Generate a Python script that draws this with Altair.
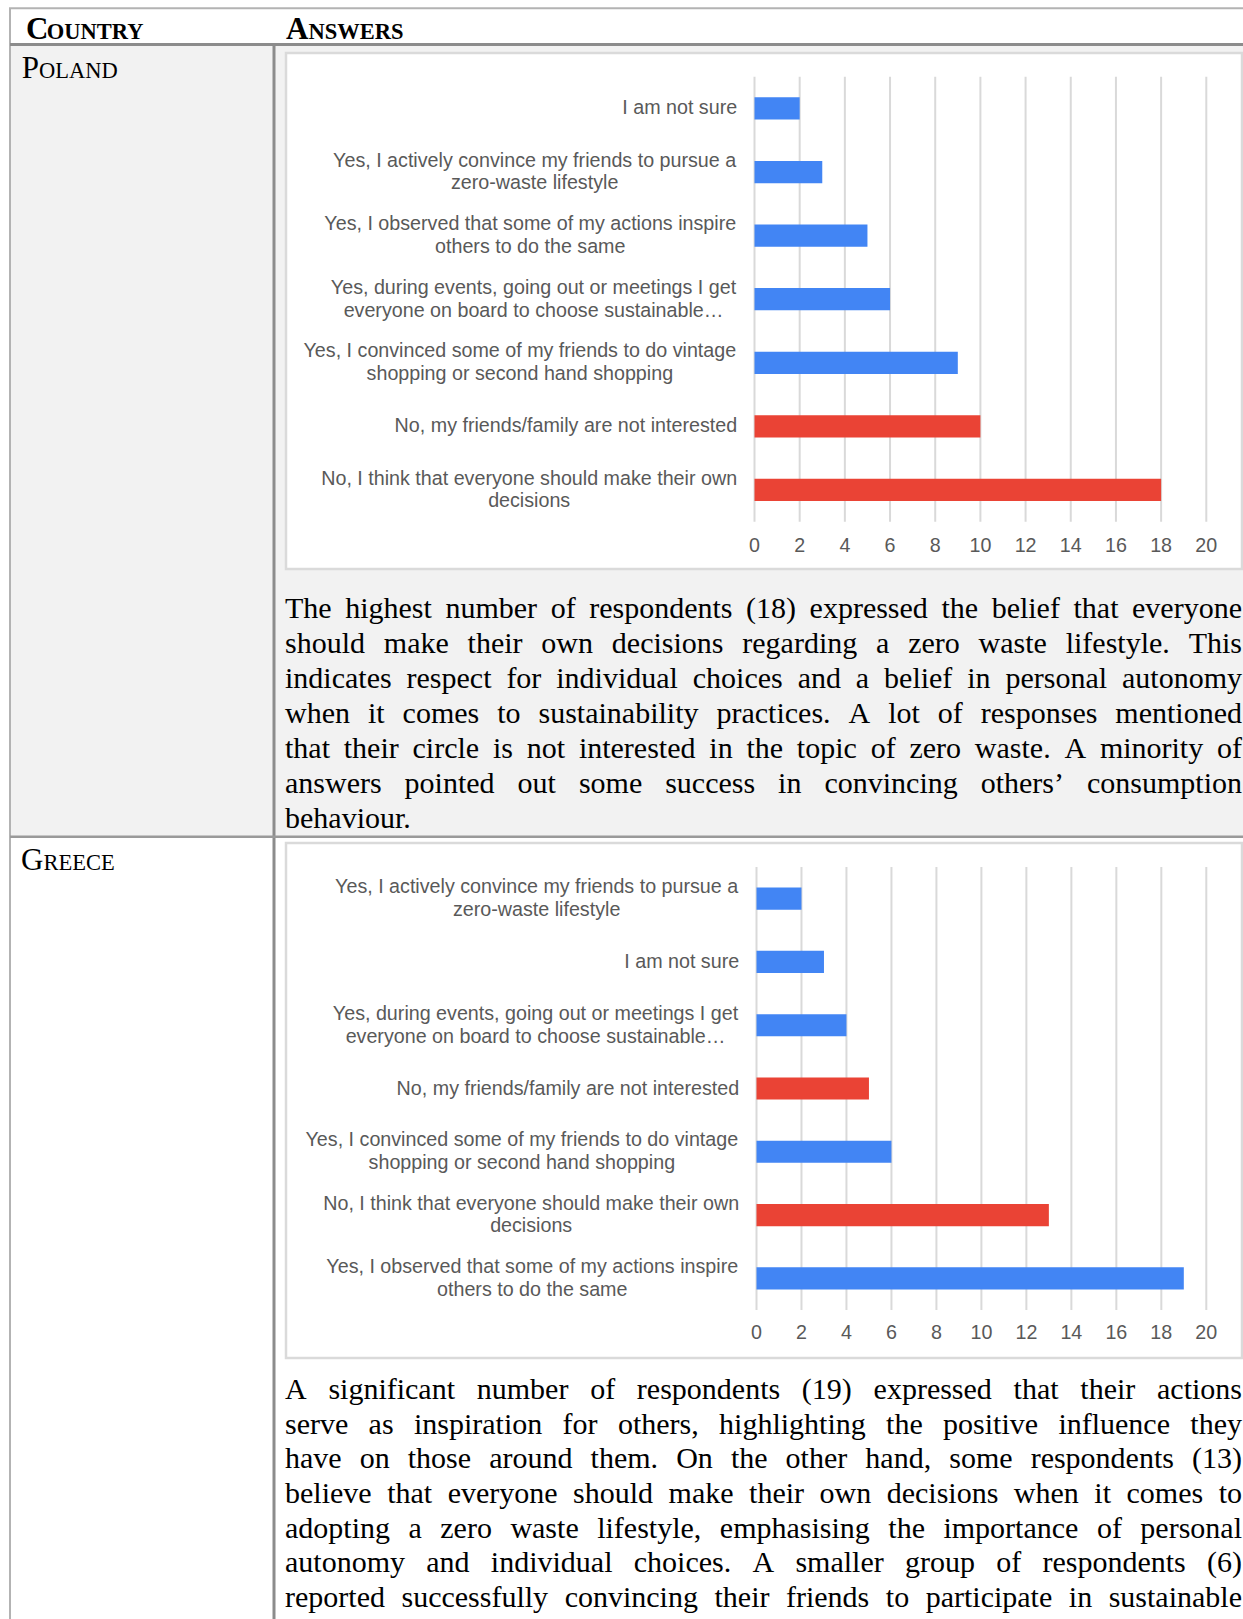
import altair as alt
import pandas as pd

# ---------------- content ----------------
HEADER_COUNTRY = "Country"
HEADER_ANSWERS = "Answers"
COUNTRY_1 = "Poland"
COUNTRY_2 = "Greece"

PL_ANSWERS = [
    "I am not sure",
    "Yes, I actively convince my friends to pursue a\nzero-waste lifestyle",
    "Yes, I observed that some of my actions inspire\nothers to do the same",
    "Yes, during events, going out or meetings I get\neveryone on board to choose sustainable…",
    "Yes, I convinced some of my friends to do vintage\nshopping or second hand shopping",
    "No, my friends/family are not interested",
    "No, I think that everyone should make their own\ndecisions",
]
PL_COUNTS = [2, 3, 5, 6, 9, 10, 18]
PL_KIND = ["yes", "yes", "yes", "yes", "yes", "no", "no"]

GR_ANSWERS = [
    "Yes, I actively convince my friends to pursue a\nzero-waste lifestyle",
    "I am not sure",
    "Yes, during events, going out or meetings I get\neveryone on board to choose sustainable…",
    "No, my friends/family are not interested",
    "Yes, I convinced some of my friends to do vintage\nshopping or second hand shopping",
    "No, I think that everyone should make their own\ndecisions",
    "Yes, I observed that some of my actions inspire\nothers to do the same",
]
GR_COUNTS = [2, 3, 4, 5, 6, 13, 19]
GR_KIND = ["yes", "yes", "yes", "no", "yes", "no", "yes"]

X_TICKS = [0, 2, 4, 6, 8, 10, 12, 14, 16, 18, 20]

PL_TEXT = [
    "The highest number of respondents (18) expressed the belief that everyone",
    "should make their own decisions regarding a zero waste lifestyle. This",
    "indicates respect for individual choices and a belief in personal autonomy",
    "when it comes to sustainability practices. A lot of responses mentioned",
    "that their circle is not interested in the topic of zero waste. A minority of",
    "answers pointed out some success in convincing others’ consumption",
    "behaviour.",
]
GR_TEXT = [
    "A significant number of respondents (19) expressed that their actions",
    "serve as inspiration for others, highlighting the positive influence they",
    "have on those around them. On the other hand, some respondents (13)",
    "believe that everyone should make their own decisions when it comes to",
    "adopting a zero waste lifestyle, emphasising the importance of personal",
    "autonomy and individual choices. A smaller group of respondents (6)",
    "reported successfully convincing their friends to participate in sustainable",
]

# ---------------- style / layout ----------------
W, H = 1243, 1619
BLUE, RED = "#4285f4", "#ea4335"
LABEL_GRAY = "#595959"
GRID = "#d9d9d9"
SANS = "Liberation Sans"
SERIF = "Liberation Serif"
LABEL_SIZE = 19.7
PARA_SIZE = 30

HELV = {' ': 278, ',': 278, '-': 333, '.': 278, '/': 278, '…': 1000,
        'A': 667, 'B': 667, 'C': 722, 'D': 722, 'E': 667, 'F': 611, 'G': 778, 'H': 722, 'I': 278,
        'J': 500, 'K': 667, 'L': 556, 'M': 833, 'N': 722, 'O': 778, 'P': 667, 'Q': 778, 'R': 722,
        'S': 667, 'T': 611, 'U': 722, 'V': 667, 'W': 944, 'X': 667, 'Y': 667, 'Z': 611,
        'a': 556, 'b': 556, 'c': 500, 'd': 556, 'e': 556, 'f': 278, 'g': 556, 'h': 556, 'i': 222,
        'j': 222, 'k': 500, 'l': 222, 'm': 833, 'n': 556, 'o': 556, 'p': 556, 'q': 556, 'r': 333,
        's': 500, 't': 278, 'u': 556, 'v': 500, 'w': 722, 'x': 500, 'y': 500, 'z': 500}
TIMES = {' ': 250, ',': 250, '-': 333, '.': 250, '(': 333, ')': 333, '’': 333, ':': 278, ';': 278,
         'A': 722, 'B': 667, 'C': 667, 'D': 722, 'E': 611, 'F': 556, 'G': 722, 'H': 722, 'I': 333,
         'J': 389, 'K': 722, 'L': 611, 'M': 889, 'N': 722, 'O': 722, 'P': 556, 'Q': 722, 'R': 667,
         'S': 556, 'T': 611, 'U': 722, 'V': 722, 'W': 944, 'X': 722, 'Y': 722, 'Z': 611,
         'a': 444, 'b': 500, 'c': 444, 'd': 500, 'e': 444, 'f': 333, 'g': 500, 'h': 500, 'i': 278,
         'j': 278, 'k': 500, 'l': 278, 'm': 778, 'n': 500, 'o': 500, 'p': 500, 'q': 500, 'r': 333,
         's': 389, 't': 278, 'u': 500, 'v': 500, 'w': 722, 'x': 500, 'y': 500, 'z': 444}
for d in "0123456789":
    TIMES[d] = 500
    HELV[d] = 556


def text_width(s, table, size):
    return sum(table.get(c, 500) for c in s) * size / 1000.0


one = pd.DataFrame({"k": [0]})


def rect(x, x2, y, y2, **kw):
    return alt.Chart(one).mark_rect(**kw).encode(
        x=alt.value(x), x2=alt.value(x2), y=alt.value(y), y2=alt.value(y2))


def hrule(y, x, x2, color, width):
    return alt.Chart(one).mark_rule(color=color, strokeWidth=width).encode(
        x=alt.value(x), x2=alt.value(x2), y=alt.value(y))


def vrule(x, y, y2, color, width):
    return alt.Chart(one).mark_rule(color=color, strokeWidth=width).encode(
        x=alt.value(x), y=alt.value(y), y2=alt.value(y2))


def label(txt, x, y, size, bold=False):
    return alt.Chart(one).mark_text(
        text=txt, font=SERIF, fontSize=size, fontWeight="bold" if bold else "normal",
        align="left", baseline="alphabetic", color="black").encode(
        x=alt.value(x), y=alt.value(y))


def small_caps(word, x, y, big, small, bold=False):
    first = word[0].upper()
    rest = word[1:].upper()
    w1 = TIMES.get(first, 700) * big / 1000.0
    return [label(first, x, y, big, bold), label(rest, x + w1, y, small, bold)]


IDENT_X = alt.Scale(domain=[0, W], range=[0, W], nice=False, zero=False)


def bar_panel(answers, counts, kinds, x0, x1, ytop, ybot, tick_y):
    xs = alt.Scale(domain=[0, 20], range=[x0, x1], nice=False, zero=True)
    ys = alt.Scale(domain=answers, range=[ytop, ybot], paddingInner=0.65, paddingOuter=0.325)
    df = pd.DataFrame({"answer": answers, "count": counts, "kind": kinds})
    tk = pd.DataFrame({"tick": X_TICKS})
    grid = alt.Chart(tk).mark_rule(color=GRID, strokeWidth=2).encode(
        x=alt.X("tick:Q", scale=xs, axis=None), y=alt.value(ytop), y2=alt.value(ybot))
    bars = alt.Chart(df).mark_bar().encode(
        x=alt.X("count:Q", scale=xs, axis=None),
        y=alt.Y("answer:N", scale=ys, axis=None, sort=None),
        color=alt.Color("kind:N", scale=alt.Scale(domain=["yes", "no"], range=[BLUE, RED]),
                        legend=None))
    ticks = alt.Chart(tk).mark_text(font=SANS, fontSize=LABEL_SIZE, color=LABEL_GRAY,
                                    baseline="middle", align="center").encode(
        x=alt.X("tick:Q", scale=xs, axis=None), y=alt.value(tick_y), text="tick:Q")
    panel = alt.layer(grid, bars, ticks)

    right = x0 - 17.3
    rows = []
    for a in answers:
        parts = a.split("\n")
        l1 = parts[0]
        l2 = parts[1] if len(parts) > 1 else ""
        rows.append({"answer": a, "line1": l1, "line2": l2, "nl": len(parts),
                     "lx": right - text_width(l1, HELV, LABEL_SIZE) / 2})
    ldf = pd.DataFrame(rows)
    base = alt.Chart(ldf)
    enc = dict(x=alt.X("lx:Q", scale=IDENT_X, axis=None),
               y=alt.Y("answer:N", scale=ys, axis=None, sort=None))
    style = dict(font=SANS, fontSize=LABEL_SIZE, color=LABEL_GRAY, align="center",
                 baseline="middle")
    single = base.transform_filter("datum.nl == 1").mark_text(**style).encode(
        text="line1:N", **enc)
    first = base.transform_filter("datum.nl == 2").mark_text(dy=-11.3, **style).encode(
        text="line1:N", **enc)
    second = base.transform_filter("datum.nl == 2").mark_text(dy=11.3, **style).encode(
        text="line2:N", **enc)
    return [panel, single, first, second]


def paragraph(lines, left, right, first_base, last_base, justify_last):
    rows = []
    n = len(lines)
    for i, ln in enumerate(lines):
        words = ln.split(" ")
        widths = [text_width(w, TIMES, PARA_SIZE) for w in words]
        if (i < n - 1 or justify_last) and len(words) > 1:
            gap = (right - left - sum(widths)) / (len(words) - 1)
        else:
            gap = TIMES[" "] * PARA_SIZE / 1000.0
        x = left
        for w, wd in zip(words, widths):
            rows.append({"line": i, "word": w, "wx": x})
            x += wd + gap
    df = pd.DataFrame(rows)
    ys = alt.Scale(domain=[0, n - 1], range=[first_base, last_base], nice=False, zero=False)
    return alt.Chart(df).mark_text(font=SERIF, fontSize=PARA_SIZE, color="black",
                                   align="left", baseline="alphabetic").encode(
        x=alt.X("wx:Q", scale=IDENT_X, axis=None),
        y=alt.Y("line:Q", scale=ys, axis=None),
        text="word:N")


layers = []
# backgrounds
layers.append(rect(11, W, 45, 836, fill="#f2f2f2"))
layers.append(rect(286, 1242, 53, 569, fill="white", stroke="#dadada", strokeWidth=2.5))
layers.append(rect(286, 1242, 843, 1358, fill="white", stroke="#dadada", strokeWidth=2.5))

# charts
layers += bar_panel(PL_ANSWERS, PL_COUNTS, PL_KIND, 754.5, 1206.3, 76.7, 521.7, 546)
layers += bar_panel(GR_ANSWERS, GR_COUNTS, GR_KIND, 756.5, 1206.3, 867, 1310, 1333)

# paragraphs
layers.append(paragraph(PL_TEXT, 285, 1242, 617.5, 828, False))
layers.append(paragraph(GR_TEXT, 285, 1242, 1399, 1607, True))

# table lines
layers.append(hrule(8.3, 9, W, "#b3b3b3", 2))
layers.append(vrule(10, 8, H, "#b3b3b3", 2))
layers.append(hrule(44.5, 10, W, "#8c8c8c", 3))
layers.append(vrule(274, 44, H, "#8c8c8c", 3))
layers.append(hrule(836.7, 10, W, "#9a9a9a", 2.5))

# table texts
layers += small_caps(HEADER_COUNTRY, 26, 39.3, 31, 22.5, bold=True)
layers += small_caps(HEADER_ANSWERS, 286, 39.3, 31, 22.5, bold=True)
layers += small_caps(COUNTRY_1, 21.7, 78.3, 31, 22.5)
layers += small_caps(COUNTRY_2, 21.0, 870.3, 31, 22.5)

chart = alt.layer(*layers).resolve_scale(
    x="independent", y="independent", color="independent"
).properties(
    width=W, height=H, padding=0,
    autosize=alt.AutoSizeParams(type="none"), background="white"
).configure_view(stroke=None)

chart.save("out.html", embed_options={"renderer": "svg", "actions": False})
